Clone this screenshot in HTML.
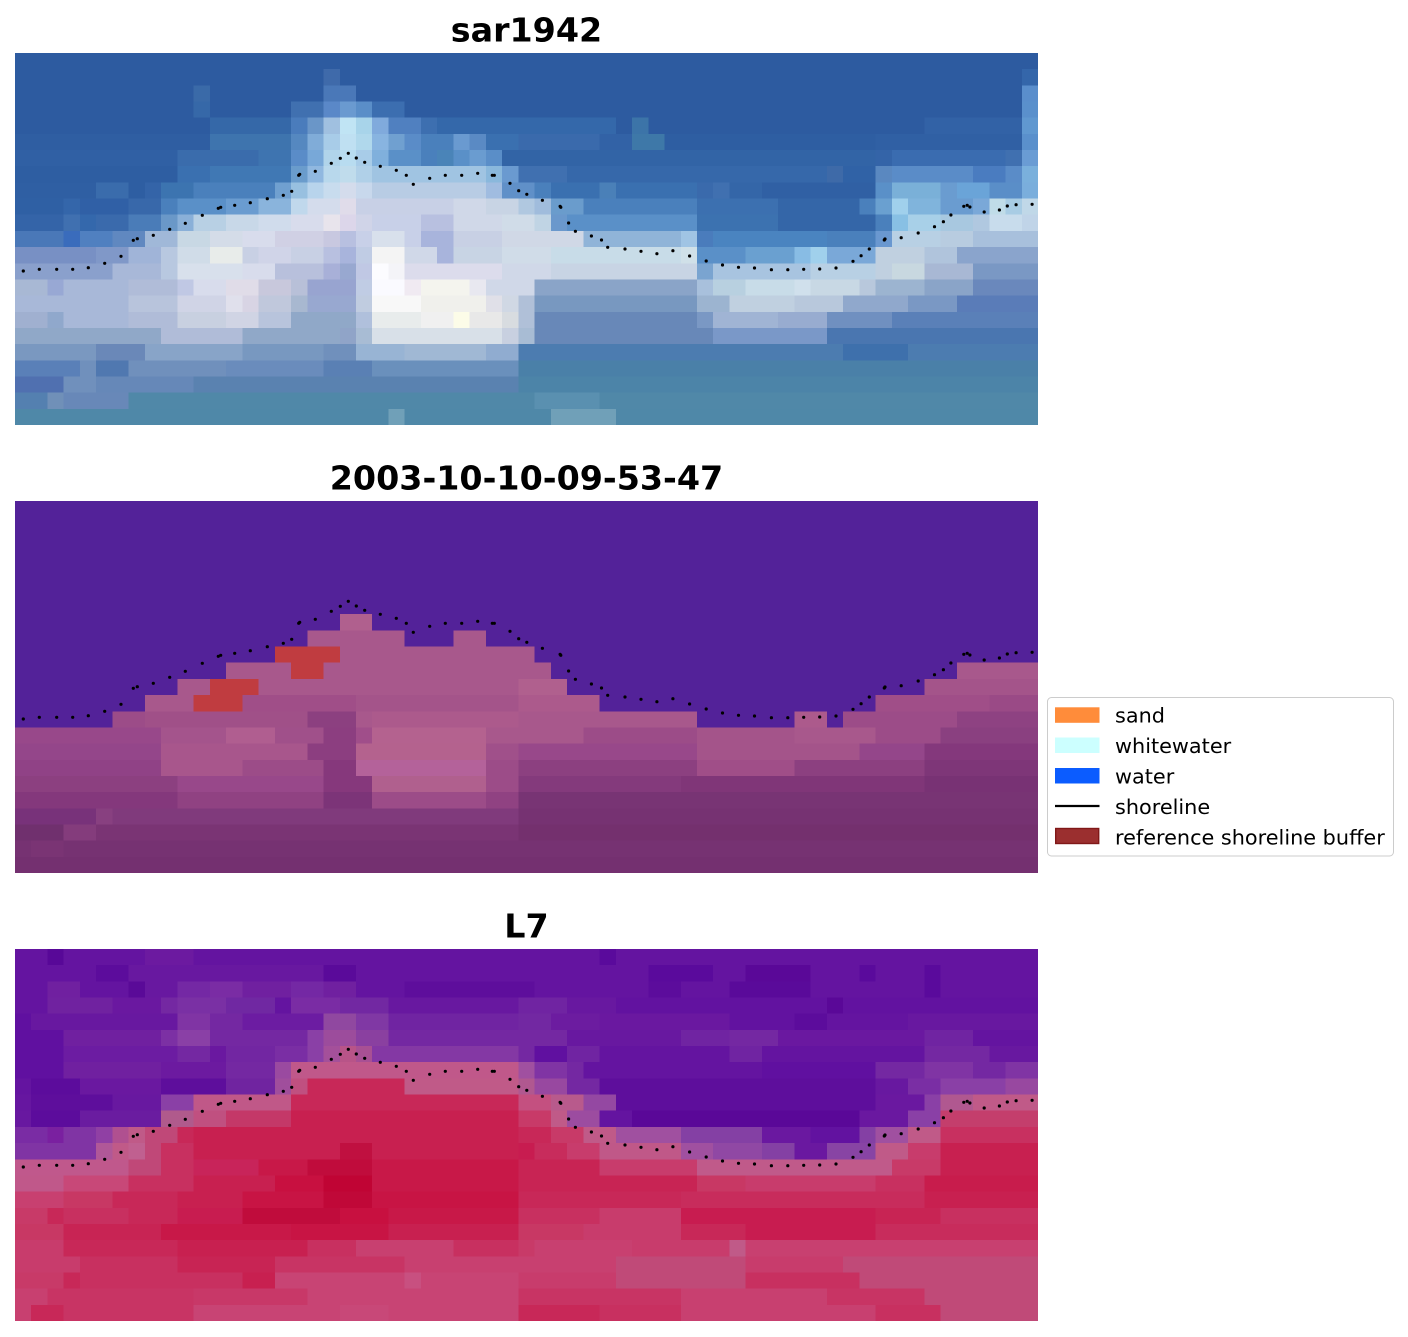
<!DOCTYPE html>
<html><head><meta charset="utf-8">
<style>
html,body{margin:0;padding:0;background:#fff;}
svg{display:block;}
.p rect{shape-rendering:crispEdges;}
text{font-family:"DejaVu Sans","Liberation Sans",sans-serif;fill:#000;}
</style></head><body>
<svg width="1408" height="1337" viewBox="0 0 1408 1337" xmlns="http://www.w3.org/2000/svg">
<rect width="1408" height="1337" fill="#fff"/>
<text x="526.5" y="41.5" font-size="33.3" font-weight="bold" text-anchor="middle">sar1942</text>
<text x="526.5" y="489.5" font-size="33.3" font-weight="bold" text-anchor="middle">2003-10-10-09-53-47</text>
<text x="526.5" y="937.5" font-size="33.3" font-weight="bold" text-anchor="middle">L7</text>

<!-- Panel 1 -->
<svg class="p" x="15" y="53" width="1023" height="372" viewBox="0 0 63 23" preserveAspectRatio="none">
<rect width="63" height="23" fill="#2d5ba0"/>
<rect x="19" y="1" width="1" height="1" fill="#3f6aaa"/><rect x="62" y="1" width="1" height="1" fill="#3466aa"/>
<rect x="11" y="2" width="1" height="1" fill="#3a6aa8"/><rect x="19" y="2" width="2" height="1" fill="#4a78b8"/><rect x="62" y="2" width="1" height="1" fill="#5a8ecc"/>
<rect x="11" y="3" width="1" height="1" fill="#3668a8"/><rect x="17" y="3" width="2" height="1" fill="#4070b0"/><rect x="19" y="3" width="1" height="1" fill="#5a88c8"/><rect x="20" y="3" width="1" height="1" fill="#6a9ad0"/><rect x="21" y="3" width="1" height="1" fill="#5a8ec8"/><rect x="22" y="3" width="2" height="1" fill="#3c6eb0"/><rect x="62" y="3" width="1" height="1" fill="#5a90cc"/>
<rect x="12" y="4" width="5" height="1" fill="#3568a8"/><rect x="17" y="4" width="1" height="1" fill="#4a7cbc"/><rect x="18" y="4" width="1" height="1" fill="#6a96c8"/><rect x="19" y="4" width="1" height="1" fill="#a0c0e0"/><rect x="20" y="4" width="1" height="1" fill="#c0e4f4"/><rect x="21" y="4" width="1" height="1" fill="#a8d4ea"/><rect x="22" y="4" width="1" height="1" fill="#80aadc"/><rect x="23" y="4" width="2" height="1" fill="#5080c0"/><rect x="25" y="4" width="1" height="1" fill="#3d6fb0"/><rect x="26" y="4" width="11" height="1" fill="#3468aa"/><rect x="38" y="4" width="1" height="1" fill="#3c74a8"/><rect x="56" y="4" width="6" height="1" fill="#3262a6"/><rect x="62" y="4" width="1" height="1" fill="#6098d0"/>
<rect x="0" y="5" width="12" height="1" fill="#2f5ea2"/><rect x="12" y="5" width="5" height="1" fill="#3e74ae"/><rect x="17" y="5" width="1" height="1" fill="#5588c0"/><rect x="18" y="5" width="1" height="1" fill="#80acd8"/><rect x="19" y="5" width="1" height="1" fill="#a8cce8"/><rect x="20" y="5" width="1" height="1" fill="#bfe0f2"/><rect x="21" y="5" width="1" height="1" fill="#b0d8ec"/><rect x="22" y="5" width="1" height="1" fill="#88b4e0"/><rect x="23" y="5" width="1" height="1" fill="#70a0d0"/><rect x="24" y="5" width="1" height="1" fill="#5a8cc8"/><rect x="25" y="5" width="2" height="1" fill="#4a80bc"/><rect x="27" y="5" width="1" height="1" fill="#6a9ad0"/><rect x="28" y="5" width="1" height="1" fill="#5a8ac4"/><rect x="29" y="5" width="2" height="1" fill="#3a70b0"/><rect x="31" y="5" width="5" height="1" fill="#3a6aac"/><rect x="36" y="5" width="2" height="1" fill="#3262a6"/><rect x="38" y="5" width="2" height="1" fill="#3e78a8"/><rect x="40" y="5" width="13" height="1" fill="#2e5ea2"/><rect x="53" y="5" width="9" height="1" fill="#3060a4"/><rect x="62" y="5" width="1" height="1" fill="#5a90cc"/>
<rect x="0" y="6" width="10" height="1" fill="#3060a4"/><rect x="10" y="6" width="5" height="1" fill="#3a6cac"/><rect x="15" y="6" width="2" height="1" fill="#3e74b0"/><rect x="17" y="6" width="1" height="1" fill="#5a8cc8"/><rect x="18" y="6" width="1" height="1" fill="#78a8d8"/><rect x="19" y="6" width="1" height="1" fill="#b0d4ea"/><rect x="20" y="6" width="1" height="1" fill="#b8dcf0"/><rect x="21" y="6" width="1" height="1" fill="#a8cce8"/><rect x="22" y="6" width="1" height="1" fill="#80b0dc"/><rect x="23" y="6" width="2" height="1" fill="#5a90c8"/><rect x="25" y="6" width="1" height="1" fill="#4a80bc"/><rect x="26" y="6" width="1" height="1" fill="#4a84b8"/><rect x="27" y="6" width="1" height="1" fill="#5a90c8"/><rect x="28" y="6" width="1" height="1" fill="#6a9cd0"/><rect x="29" y="6" width="1" height="1" fill="#5a8ec8"/><rect x="30" y="6" width="23" height="1" fill="#3264a6"/><rect x="53" y="6" width="1" height="1" fill="#3464a8"/><rect x="54" y="6" width="7" height="1" fill="#3a6cb0"/><rect x="61" y="6" width="1" height="1" fill="#4070b0"/><rect x="62" y="6" width="1" height="1" fill="#6a9cd4"/>
<rect x="0" y="7" width="10" height="1" fill="#2e5ea2"/><rect x="10" y="7" width="2" height="1" fill="#3a70b0"/><rect x="12" y="7" width="5" height="1" fill="#4078b4"/><rect x="17" y="7" width="1" height="1" fill="#6a9ccc"/><rect x="18" y="7" width="1" height="1" fill="#90b8e0"/><rect x="19" y="7" width="1" height="1" fill="#b8d8ec"/><rect x="20" y="7" width="1" height="1" fill="#c0dcec"/><rect x="21" y="7" width="1" height="1" fill="#b0d0e8"/><rect x="22" y="7" width="7" height="1" fill="#a0c4e2"/><rect x="29" y="7" width="1" height="1" fill="#8ab8dc"/><rect x="30" y="7" width="1" height="1" fill="#6a9ad0"/><rect x="31" y="7" width="3" height="1" fill="#4070b0"/><rect x="34" y="7" width="16" height="1" fill="#3668aa"/><rect x="50" y="7" width="1" height="1" fill="#3e6aa8"/><rect x="51" y="7" width="2" height="1" fill="#3062a6"/><rect x="53" y="7" width="1" height="1" fill="#5a88c0"/><rect x="54" y="7" width="5" height="1" fill="#5a8cc8"/><rect x="59" y="7" width="2" height="1" fill="#4a7cc0"/><rect x="61" y="7" width="1" height="1" fill="#5a8cc8"/><rect x="62" y="7" width="1" height="1" fill="#7ab0dc"/>
<rect x="0" y="8" width="5" height="1" fill="#2f5fa3"/><rect x="5" y="8" width="2" height="1" fill="#3a6cac"/><rect x="7" y="8" width="1" height="1" fill="#2e5ea2"/><rect x="8" y="8" width="1" height="1" fill="#3464a8"/><rect x="9" y="8" width="2" height="1" fill="#3c74b0"/><rect x="11" y="8" width="5" height="1" fill="#4a80bc"/><rect x="16" y="8" width="1" height="1" fill="#70a0d0"/><rect x="17" y="8" width="1" height="1" fill="#98c0e0"/><rect x="18" y="8" width="1" height="1" fill="#b8d4ec"/><rect x="19" y="8" width="1" height="1" fill="#c8dcee"/><rect x="20" y="8" width="1" height="1" fill="#d4dcec"/><rect x="21" y="8" width="1" height="1" fill="#c8d8ec"/><rect x="22" y="8" width="7" height="1" fill="#b8cce4"/><rect x="29" y="8" width="1" height="1" fill="#a0bce0"/><rect x="30" y="8" width="2" height="1" fill="#6090c8"/><rect x="32" y="8" width="1" height="1" fill="#4a80bc"/><rect x="33" y="8" width="9" height="1" fill="#3a70b0"/><rect x="36" y="8" width="1" height="1" fill="#4a80b8"/><rect x="42" y="8" width="1" height="1" fill="#3a6aac"/><rect x="43" y="8" width="1" height="1" fill="#4070b0"/><rect x="44" y="8" width="2" height="1" fill="#3466a8"/><rect x="46" y="8" width="7" height="1" fill="#3060a4"/><rect x="53" y="8" width="1" height="1" fill="#5a90c8"/><rect x="54" y="8" width="3" height="1" fill="#7ab0d8"/><rect x="57" y="8" width="1" height="1" fill="#6a9cd0"/><rect x="58" y="8" width="2" height="1" fill="#6aa4d8"/><rect x="60" y="8" width="2" height="1" fill="#5a8ec8"/><rect x="62" y="8" width="1" height="1" fill="#7aaedc"/>
<rect x="0" y="9" width="3" height="1" fill="#2f60a4"/><rect x="3" y="9" width="1" height="1" fill="#3466aa"/><rect x="4" y="9" width="3" height="1" fill="#3060a6"/><rect x="7" y="9" width="2" height="1" fill="#3868aa"/><rect x="9" y="9" width="1" height="1" fill="#4a80bc"/><rect x="10" y="9" width="3" height="1" fill="#5a90c8"/><rect x="13" y="9" width="2" height="1" fill="#6a9cd0"/><rect x="15" y="9" width="2" height="1" fill="#8ab4dc"/><rect x="17" y="9" width="1" height="1" fill="#c0d8ec"/><rect x="18" y="9" width="2" height="1" fill="#d4dcec"/><rect x="20" y="9" width="1" height="1" fill="#e0dcea"/><rect x="21" y="9" width="6" height="1" fill="#c8d0e6"/><rect x="27" y="9" width="2" height="1" fill="#d0d8e8"/><rect x="29" y="9" width="2" height="1" fill="#c8d4e4"/><rect x="31" y="9" width="1" height="1" fill="#b0c8e0"/><rect x="32" y="9" width="1" height="1" fill="#a0bcdc"/><rect x="33" y="9" width="2" height="1" fill="#6a9ccc"/><rect x="35" y="9" width="7" height="1" fill="#4a80bc"/><rect x="42" y="9" width="5" height="1" fill="#3c70b0"/><rect x="47" y="9" width="5" height="1" fill="#3466a8"/><rect x="52" y="9" width="1" height="1" fill="#4a80bc"/><rect x="53" y="9" width="1" height="1" fill="#6aa0d0"/><rect x="54" y="9" width="1" height="1" fill="#a0d0ec"/><rect x="55" y="9" width="2" height="1" fill="#80b4dc"/><rect x="57" y="9" width="2" height="1" fill="#6a9cd0"/><rect x="59" y="9" width="1" height="1" fill="#7aa8d8"/><rect x="60" y="9" width="1" height="1" fill="#c0dce8"/><rect x="61" y="9" width="1" height="1" fill="#a8cce4"/><rect x="62" y="9" width="1" height="1" fill="#c0d8e8"/>
<rect x="0" y="10" width="3" height="1" fill="#3464a8"/><rect x="3" y="10" width="1" height="1" fill="#4070b0"/><rect x="4" y="10" width="1" height="1" fill="#3468ac"/><rect x="5" y="10" width="2" height="1" fill="#3a6aac"/><rect x="7" y="10" width="2" height="1" fill="#4a7cb8"/><rect x="9" y="10" width="1" height="1" fill="#6a98c8"/><rect x="10" y="10" width="1" height="1" fill="#8ab0d8"/><rect x="11" y="10" width="2" height="1" fill="#b8d0e4"/><rect x="13" y="10" width="2" height="1" fill="#c8d8e8"/><rect x="15" y="10" width="2" height="1" fill="#d0dcec"/><rect x="17" y="10" width="2" height="1" fill="#d8dcec"/><rect x="19" y="10" width="1" height="1" fill="#e8e4ec"/><rect x="20" y="10" width="1" height="1" fill="#dcd6ea"/><rect x="21" y="10" width="1" height="1" fill="#d0d4e8"/><rect x="22" y="10" width="3" height="1" fill="#c8d0e8"/><rect x="25" y="10" width="2" height="1" fill="#b8c0e0"/><rect x="27" y="10" width="3" height="1" fill="#d0d8e8"/><rect x="30" y="10" width="2" height="1" fill="#d0dce8"/><rect x="32" y="10" width="1" height="1" fill="#c0d4e4"/><rect x="33" y="10" width="1" height="1" fill="#6a98cc"/><rect x="34" y="10" width="8" height="1" fill="#5a90c8"/><rect x="42" y="10" width="5" height="1" fill="#3c72b0"/><rect x="47" y="10" width="6" height="1" fill="#3466a8"/><rect x="53" y="10" width="1" height="1" fill="#4a80bc"/><rect x="54" y="10" width="1" height="1" fill="#88c0e4"/><rect x="55" y="10" width="2" height="1" fill="#a8d0e8"/><rect x="57" y="10" width="2" height="1" fill="#a8c8e0"/><rect x="59" y="10" width="1" height="1" fill="#b0c8e0"/><rect x="60" y="10" width="2" height="1" fill="#c8dcec"/><rect x="62" y="10" width="1" height="1" fill="#c0d4e8"/>
<rect x="0" y="11" width="3" height="1" fill="#4a78b8"/><rect x="3" y="11" width="1" height="1" fill="#3a6cbc"/><rect x="4" y="11" width="2" height="1" fill="#5080c0"/><rect x="6" y="11" width="2" height="1" fill="#6088c0"/><rect x="8" y="11" width="2" height="1" fill="#a0b8d8"/><rect x="10" y="11" width="2" height="1" fill="#c8d8e4"/><rect x="12" y="11" width="2" height="1" fill="#d4dce8"/><rect x="14" y="11" width="2" height="1" fill="#d8dcec"/><rect x="16" y="11" width="3" height="1" fill="#d0d0e4"/><rect x="19" y="11" width="1" height="1" fill="#c8c8e0"/><rect x="20" y="11" width="1" height="1" fill="#b8c0e0"/><rect x="21" y="11" width="1" height="1" fill="#c8d0e8"/><rect x="22" y="11" width="2" height="1" fill="#d8e0ec"/><rect x="24" y="11" width="1" height="1" fill="#c8d0e8"/><rect x="25" y="11" width="2" height="1" fill="#a8b4dc"/><rect x="27" y="11" width="3" height="1" fill="#c8d0e4"/><rect x="30" y="11" width="5" height="1" fill="#d0d8e6"/><rect x="35" y="11" width="6" height="1" fill="#90b4d8"/><rect x="41" y="11" width="1" height="1" fill="#a0c4e4"/><rect x="42" y="11" width="1" height="1" fill="#4a7cbc"/><rect x="43" y="11" width="7" height="1" fill="#4a84c0"/><rect x="50" y="11" width="3" height="1" fill="#4a80bc"/><rect x="53" y="11" width="1" height="1" fill="#6a98d0"/><rect x="54" y="11" width="3" height="1" fill="#b8d0e4"/><rect x="57" y="11" width="2" height="1" fill="#b8cce0"/><rect x="59" y="11" width="4" height="1" fill="#a8c0dc"/>
<rect x="0" y="12" width="5" height="1" fill="#7890c4"/><rect x="5" y="12" width="2" height="1" fill="#8098c8"/><rect x="7" y="12" width="2" height="1" fill="#a0b4d8"/><rect x="9" y="12" width="1" height="1" fill="#b8c8e0"/><rect x="10" y="12" width="2" height="1" fill="#d0dce8"/><rect x="12" y="12" width="2" height="1" fill="#e8ecea"/><rect x="14" y="12" width="1" height="1" fill="#c8d0e4"/><rect x="15" y="12" width="2" height="1" fill="#d0d4e8"/><rect x="17" y="12" width="2" height="1" fill="#c8d0e4"/><rect x="19" y="12" width="1" height="1" fill="#b8c0e0"/><rect x="20" y="12" width="1" height="1" fill="#a8b4dc"/><rect x="21" y="12" width="1" height="1" fill="#c0cce4"/><rect x="22" y="12" width="2" height="1" fill="#f4f4f4"/><rect x="24" y="12" width="2" height="1" fill="#d0d8e8"/><rect x="26" y="12" width="1" height="1" fill="#a8b4dc"/><rect x="27" y="12" width="3" height="1" fill="#c8d4e4"/><rect x="30" y="12" width="3" height="1" fill="#d0dce8"/><rect x="33" y="12" width="8" height="1" fill="#c8dce8"/><rect x="41" y="12" width="1" height="1" fill="#d0e0e8"/><rect x="42" y="12" width="3" height="1" fill="#5a90c8"/><rect x="45" y="12" width="3" height="1" fill="#6aa0d0"/><rect x="48" y="12" width="1" height="1" fill="#88bce4"/><rect x="49" y="12" width="1" height="1" fill="#a0d0ec"/><rect x="50" y="12" width="3" height="1" fill="#7aa8d8"/><rect x="53" y="12" width="3" height="1" fill="#c0d0e0"/><rect x="56" y="12" width="2" height="1" fill="#b0c4dc"/><rect x="58" y="12" width="5" height="1" fill="#8aa4cc"/>
<rect x="0" y="13" width="6" height="1" fill="#8aa0cc"/><rect x="6" y="13" width="3" height="1" fill="#a8b8d8"/><rect x="9" y="13" width="1" height="1" fill="#b8c8e0"/><rect x="10" y="13" width="4" height="1" fill="#d8e0ec"/><rect x="14" y="13" width="2" height="1" fill="#d8dcec"/><rect x="16" y="13" width="3" height="1" fill="#b8c0dc"/><rect x="19" y="13" width="1" height="1" fill="#a8b0d8"/><rect x="20" y="13" width="1" height="1" fill="#98a8d0"/><rect x="21" y="13" width="1" height="1" fill="#c0c8e4"/><rect x="22" y="13" width="1" height="1" fill="#fcfcff"/><rect x="23" y="13" width="1" height="1" fill="#f4f4f8"/><rect x="24" y="13" width="6" height="1" fill="#dcdcec"/><rect x="30" y="13" width="3" height="1" fill="#d0d8e8"/><rect x="33" y="13" width="9" height="1" fill="#c8d4e4"/><rect x="42" y="13" width="1" height="1" fill="#7aa4d0"/><rect x="43" y="13" width="6" height="1" fill="#a8c4e0"/><rect x="49" y="13" width="4" height="1" fill="#b8d0e4"/><rect x="53" y="13" width="1" height="1" fill="#c0d0e0"/><rect x="54" y="13" width="2" height="1" fill="#c8d8e0"/><rect x="56" y="13" width="3" height="1" fill="#a8b8d4"/><rect x="59" y="13" width="4" height="1" fill="#7a98c4"/>
<rect x="0" y="14" width="2" height="1" fill="#a8b8d4"/><rect x="2" y="14" width="1" height="1" fill="#98a8d4"/><rect x="3" y="14" width="4" height="1" fill="#a8b8d8"/><rect x="7" y="14" width="3" height="1" fill="#b0bcd8"/><rect x="10" y="14" width="1" height="1" fill="#c0c8e4"/><rect x="11" y="14" width="2" height="1" fill="#d8dcec"/><rect x="13" y="14" width="2" height="1" fill="#e0dce8"/><rect x="15" y="14" width="2" height="1" fill="#c8c8dc"/><rect x="17" y="14" width="1" height="1" fill="#b8c0d8"/><rect x="18" y="14" width="3" height="1" fill="#98a4d0"/><rect x="21" y="14" width="1" height="1" fill="#c0cce4"/><rect x="22" y="14" width="2" height="1" fill="#fafaff"/><rect x="24" y="14" width="1" height="1" fill="#f0eaf2"/><rect x="25" y="14" width="3" height="1" fill="#f4f4ee"/><rect x="28" y="14" width="1" height="1" fill="#e8e8f0"/><rect x="29" y="14" width="3" height="1" fill="#d0d8e8"/><rect x="32" y="14" width="10" height="1" fill="#8aa4c8"/><rect x="42" y="14" width="1" height="1" fill="#a8c0dc"/><rect x="43" y="14" width="2" height="1" fill="#b8d0e0"/><rect x="45" y="14" width="3" height="1" fill="#c8dce8"/><rect x="48" y="14" width="1" height="1" fill="#d0e0ec"/><rect x="49" y="14" width="3" height="1" fill="#c8d8e4"/><rect x="52" y="14" width="1" height="1" fill="#b8c8dc"/><rect x="53" y="14" width="3" height="1" fill="#9cb4d0"/><rect x="56" y="14" width="3" height="1" fill="#8aa4c8"/><rect x="59" y="14" width="4" height="1" fill="#6a88bc"/>
<rect x="0" y="15" width="7" height="1" fill="#a8b8d8"/><rect x="7" y="15" width="3" height="1" fill="#b8c4dc"/><rect x="10" y="15" width="3" height="1" fill="#d0d4e6"/><rect x="13" y="15" width="1" height="1" fill="#e0e0ec"/><rect x="14" y="15" width="1" height="1" fill="#d8d4e4"/><rect x="15" y="15" width="2" height="1" fill="#c0c8dc"/><rect x="17" y="15" width="1" height="1" fill="#a8b8d0"/><rect x="18" y="15" width="3" height="1" fill="#98a8d0"/><rect x="21" y="15" width="1" height="1" fill="#c0cce0"/><rect x="22" y="15" width="3" height="1" fill="#f8f8f8"/><rect x="25" y="15" width="4" height="1" fill="#f0f0ec"/><rect x="29" y="15" width="1" height="1" fill="#e0e0e8"/><rect x="30" y="15" width="1" height="1" fill="#d0d8e4"/><rect x="31" y="15" width="1" height="1" fill="#b0c0d8"/><rect x="32" y="15" width="10" height="1" fill="#7898c0"/><rect x="42" y="15" width="2" height="1" fill="#9cb4d0"/><rect x="44" y="15" width="4" height="1" fill="#c0d0e0"/><rect x="48" y="15" width="3" height="1" fill="#b8c8dc"/><rect x="51" y="15" width="4" height="1" fill="#90a8cc"/><rect x="55" y="15" width="3" height="1" fill="#7a98c4"/><rect x="58" y="15" width="5" height="1" fill="#5a7cb8"/>
<rect x="0" y="16" width="2" height="1" fill="#a0b0d0"/><rect x="2" y="16" width="1" height="1" fill="#90a8cc"/><rect x="3" y="16" width="4" height="1" fill="#a8b8d8"/><rect x="7" y="16" width="3" height="1" fill="#b0bcd8"/><rect x="10" y="16" width="3" height="1" fill="#c8d0e0"/><rect x="13" y="16" width="2" height="1" fill="#d0d4e4"/><rect x="15" y="16" width="2" height="1" fill="#b8c4dc"/><rect x="17" y="16" width="4" height="1" fill="#90a8c8"/><rect x="21" y="16" width="1" height="1" fill="#b0c0dc"/><rect x="22" y="16" width="3" height="1" fill="#e8ecec"/><rect x="25" y="16" width="2" height="1" fill="#f0f0f0"/><rect x="27" y="16" width="1" height="1" fill="#fcfce8"/><rect x="28" y="16" width="2" height="1" fill="#e8e8e8"/><rect x="30" y="16" width="1" height="1" fill="#d8dce0"/><rect x="31" y="16" width="1" height="1" fill="#b0c0d8"/><rect x="32" y="16" width="10" height="1" fill="#6888b8"/><rect x="42" y="16" width="1" height="1" fill="#7a98c4"/><rect x="43" y="16" width="4" height="1" fill="#a0b4d4"/><rect x="47" y="16" width="3" height="1" fill="#98acd0"/><rect x="50" y="16" width="4" height="1" fill="#7090c0"/><rect x="54" y="16" width="9" height="1" fill="#5a80b8"/>
<rect x="0" y="17" width="9" height="1" fill="#90a8c8"/><rect x="9" y="17" width="5" height="1" fill="#b0bcd8"/><rect x="14" y="17" width="6" height="1" fill="#90a8c8"/><rect x="20" y="17" width="1" height="1" fill="#90a4c8"/><rect x="21" y="17" width="1" height="1" fill="#a8bcd4"/><rect x="22" y="17" width="8" height="1" fill="#d8e0e8"/><rect x="30" y="17" width="1" height="1" fill="#c8d0e0"/><rect x="31" y="17" width="1" height="1" fill="#a8bcd4"/><rect x="32" y="17" width="11" height="1" fill="#6888b8"/><rect x="43" y="17" width="7" height="1" fill="#7a98c8"/><rect x="50" y="17" width="13" height="1" fill="#4a76b0"/>
<rect x="0" y="18" width="5" height="1" fill="#7a98c0"/><rect x="5" y="18" width="3" height="1" fill="#6a88b8"/><rect x="8" y="18" width="6" height="1" fill="#88a4c8"/><rect x="14" y="18" width="5" height="1" fill="#7898c0"/><rect x="19" y="18" width="2" height="1" fill="#7090bc"/><rect x="21" y="18" width="3" height="1" fill="#98b4d4"/><rect x="24" y="18" width="5" height="1" fill="#a0b8d4"/><rect x="29" y="18" width="2" height="1" fill="#90acd0"/><rect x="31" y="18" width="32" height="1" fill="#4c7cb0"/><rect x="51" y="18" width="4" height="1" fill="#3e70ac"/>
<rect x="0" y="19" width="4" height="1" fill="#5a80b8"/><rect x="4" y="19" width="1" height="1" fill="#7090bc"/><rect x="5" y="19" width="2" height="1" fill="#5078b0"/><rect x="7" y="19" width="6" height="1" fill="#7090bc"/><rect x="13" y="19" width="6" height="1" fill="#6a8cbc"/><rect x="19" y="19" width="3" height="1" fill="#5a80b4"/><rect x="22" y="19" width="9" height="1" fill="#6a90bc"/><rect x="31" y="19" width="32" height="1" fill="#4a80a8"/>
<rect x="0" y="20" width="3" height="1" fill="#5070b0"/><rect x="3" y="20" width="2" height="1" fill="#7090bc"/><rect x="5" y="20" width="6" height="1" fill="#6688b8"/><rect x="11" y="20" width="20" height="1" fill="#5a82b0"/><rect x="31" y="20" width="32" height="1" fill="#4c84a8"/>
<rect x="0" y="21" width="63" height="1" fill="#5088a8"/><rect x="0" y="21" width="2" height="1" fill="#5480b0"/><rect x="2" y="21" width="1" height="1" fill="#7090b8"/><rect x="3" y="21" width="4" height="1" fill="#6888b8"/><rect x="32" y="21" width="4" height="1" fill="#5a90b0"/>
<rect x="0" y="22" width="63" height="1" fill="#4f88a8"/><rect x="23" y="22" width="1" height="1" fill="#70a0b8"/><rect x="33" y="22" width="4" height="1" fill="#70a0b8"/>
</svg>

<!-- Panel 2 -->
<svg class="p" x="15" y="501" width="1023" height="372" viewBox="0 0 63 23" preserveAspectRatio="none">
<rect width="63" height="23" fill="#a8588c"/>
<rect x="20" y="7" width="2" height="1" fill="#b0608e"/>
<rect x="31" y="11" width="3" height="1" fill="#b0608e"/><rect x="56" y="11" width="7" height="1" fill="#a4548a"/>
<rect x="14" y="12" width="7" height="1" fill="#a04e88"/><rect x="21" y="12" width="10" height="1" fill="#a4548a"/><rect x="31" y="12" width="5" height="1" fill="#ac5a8c"/><rect x="53" y="12" width="7" height="1" fill="#a04e88"/><rect x="60" y="12" width="3" height="1" fill="#9a4a86"/>
<rect x="6" y="13" width="2" height="1" fill="#9c4c88"/><rect x="8" y="13" width="10" height="1" fill="#a05088"/><rect x="18" y="13" width="3" height="1" fill="#8c4080"/><rect x="22" y="13" width="9" height="1" fill="#ac5a8c"/><rect x="48" y="13" width="2" height="1" fill="#ac5a8c"/><rect x="51" y="13" width="7" height="1" fill="#9c4c88"/><rect x="58" y="13" width="5" height="1" fill="#8e4282"/>
<rect x="0" y="14" width="9" height="1" fill="#98488a"/><rect x="9" y="14" width="4" height="1" fill="#a4548c"/><rect x="13" y="14" width="3" height="1" fill="#b05e90"/><rect x="16" y="14" width="3" height="1" fill="#a0508a"/><rect x="19" y="14" width="2" height="1" fill="#8c3e80"/><rect x="21" y="14" width="1" height="1" fill="#a04e8a"/><rect x="22" y="14" width="7" height="1" fill="#b4628f"/><rect x="35" y="14" width="7" height="1" fill="#9c4c88"/><rect x="42" y="14" width="6" height="1" fill="#a4548a"/><rect x="53" y="14" width="4" height="1" fill="#9c4c88"/><rect x="57" y="14" width="6" height="1" fill="#8a4080"/>
<rect x="0" y="15" width="9" height="1" fill="#94468a"/><rect x="9" y="15" width="9" height="1" fill="#a8568c"/><rect x="18" y="15" width="3" height="1" fill="#8c3e80"/><rect x="21" y="15" width="8" height="1" fill="#b4628e"/><rect x="29" y="15" width="2" height="1" fill="#a0508a"/><rect x="31" y="15" width="11" height="1" fill="#98488a"/><rect x="42" y="15" width="10" height="1" fill="#a4548a"/><rect x="52" y="15" width="4" height="1" fill="#94468a"/><rect x="56" y="15" width="7" height="1" fill="#84387c"/>
<rect x="0" y="16" width="9" height="1" fill="#904286"/><rect x="9" y="16" width="5" height="1" fill="#a8568c"/><rect x="14" y="16" width="5" height="1" fill="#9c4c88"/><rect x="19" y="16" width="2" height="1" fill="#86387c"/><rect x="21" y="16" width="8" height="1" fill="#b4629a"/><rect x="29" y="16" width="2" height="1" fill="#9c4c88"/><rect x="31" y="16" width="11" height="1" fill="#8c4080"/><rect x="42" y="16" width="6" height="1" fill="#a04e88"/><rect x="48" y="16" width="8" height="1" fill="#8c4080"/><rect x="56" y="16" width="7" height="1" fill="#7e3678"/>
<rect x="0" y="17" width="10" height="1" fill="#8c4080"/><rect x="10" y="17" width="9" height="1" fill="#98488a"/><rect x="19" y="17" width="3" height="1" fill="#86387c"/><rect x="22" y="17" width="7" height="1" fill="#b0608e"/><rect x="29" y="17" width="2" height="1" fill="#9c4c88"/><rect x="31" y="17" width="10" height="1" fill="#843a7c"/><rect x="41" y="17" width="15" height="1" fill="#803678"/><rect x="56" y="17" width="7" height="1" fill="#783274"/>
<rect x="0" y="18" width="10" height="1" fill="#84387c"/><rect x="10" y="18" width="9" height="1" fill="#904282"/><rect x="19" y="18" width="3" height="1" fill="#7c3478"/><rect x="22" y="18" width="7" height="1" fill="#9c4c88"/><rect x="29" y="18" width="2" height="1" fill="#904282"/><rect x="31" y="18" width="32" height="1" fill="#783474"/>
<rect x="0" y="19" width="5" height="1" fill="#78327a"/><rect x="5" y="19" width="1" height="1" fill="#884080"/><rect x="6" y="19" width="25" height="1" fill="#803a7c"/><rect x="31" y="19" width="32" height="1" fill="#763272"/>
<rect x="0" y="20" width="3" height="1" fill="#70306e"/><rect x="3" y="20" width="2" height="1" fill="#843c7c"/><rect x="5" y="20" width="26" height="1" fill="#7a3474"/><rect x="31" y="20" width="32" height="1" fill="#74306e"/>
<rect x="0" y="21" width="63" height="1" fill="#763272"/><rect x="1" y="21" width="2" height="1" fill="#7a3474"/>
<rect x="0" y="22" width="63" height="1" fill="#743070"/>
<g fill="#532299">
<rect x="0" y="0" width="6" height="14"/><rect x="6" y="0" width="2" height="13"/><rect x="8" y="0" width="2" height="12"/><rect x="10" y="0" width="3" height="11"/><rect x="13" y="0" width="3" height="10"/><rect x="16" y="0" width="2" height="9"/><rect x="18" y="0" width="2" height="8"/><rect x="20" y="0" width="2" height="7"/><rect x="22" y="0" width="2" height="8"/><rect x="24" y="0" width="3" height="9"/><rect x="27" y="0" width="2" height="8"/><rect x="29" y="0" width="3" height="9"/><rect x="32" y="0" width="1" height="10"/><rect x="33" y="0" width="1" height="11"/><rect x="34" y="0" width="2" height="12"/><rect x="36" y="0" width="6" height="13"/><rect x="42" y="0" width="6" height="14"/><rect x="48" y="0" width="2" height="13"/><rect x="50" y="0" width="1" height="14"/><rect x="51" y="0" width="2" height="13"/><rect x="53" y="0" width="3" height="12"/><rect x="56" y="0" width="2" height="11"/><rect x="58" y="0" width="5" height="10"/>
</g>
<g fill="#c03c40">
<rect x="12" y="11" width="3" height="1"/><rect x="11" y="12" width="3" height="1"/><rect x="16" y="9" width="4" height="1"/><rect x="17" y="10" width="2" height="1"/>
</g>
</svg>

<!-- Panel 3 -->
<svg class="p" x="15" y="949" width="1023" height="372" viewBox="0 0 63 23" preserveAspectRatio="none">
<rect width="63" height="23" fill="#6414a0"/>
<rect x="2" y="0" width="1" height="1" fill="#580898"/><rect x="8" y="0" width="3" height="1" fill="#6c1aa0"/><rect x="36" y="0" width="1" height="1" fill="#5a0a9c"/>
<rect x="5" y="1" width="2" height="1" fill="#5c0c9c"/><rect x="7" y="1" width="12" height="1" fill="#6818a0"/><rect x="19" y="1" width="2" height="1" fill="#5a0a9a"/><rect x="39" y="1" width="4" height="1" fill="#5a0a9c"/><rect x="45" y="1" width="4" height="1" fill="#5a0898"/><rect x="52" y="1" width="1" height="1" fill="#5a0a9c"/><rect x="56" y="1" width="1" height="1" fill="#5a0a9c"/>
<rect x="2" y="2" width="2" height="1" fill="#7020a0"/><rect x="7" y="2" width="1" height="1" fill="#5a0a98"/><rect x="8" y="2" width="2" height="1" fill="#6818a0"/><rect x="10" y="2" width="2" height="1" fill="#7428a4"/><rect x="12" y="2" width="2" height="1" fill="#7a2ca4"/><rect x="14" y="2" width="3" height="1" fill="#7020a0"/><rect x="17" y="2" width="2" height="1" fill="#7428a4"/><rect x="19" y="2" width="2" height="1" fill="#7020a0"/><rect x="24" y="2" width="8" height="1" fill="#5e0e9c"/><rect x="39" y="2" width="2" height="1" fill="#5c0c9c"/><rect x="44" y="2" width="5" height="1" fill="#5a0a9a"/><rect x="56" y="2" width="1" height="1" fill="#5a0a9c"/>
<rect x="2" y="3" width="4" height="1" fill="#7022a0"/><rect x="6" y="3" width="3" height="1" fill="#6a18a0"/><rect x="9" y="3" width="1" height="1" fill="#7428a2"/><rect x="10" y="3" width="3" height="1" fill="#7a30a4"/><rect x="13" y="3" width="3" height="1" fill="#7028a2"/><rect x="17" y="3" width="3" height="1" fill="#7a2ca4"/><rect x="20" y="3" width="3" height="1" fill="#7228a2"/><rect x="23" y="3" width="8" height="1" fill="#6818a0"/><rect x="31" y="3" width="3" height="1" fill="#7024a2"/><rect x="34" y="3" width="3" height="1" fill="#6818a0"/><rect x="37" y="3" width="26" height="1" fill="#6212a0"/><rect x="50" y="3" width="1" height="1" fill="#5a0898"/>
<rect x="0" y="4" width="1" height="1" fill="#6010a0"/><rect x="1" y="4" width="9" height="1" fill="#6818a0"/><rect x="10" y="4" width="2" height="1" fill="#8034a4"/><rect x="12" y="4" width="2" height="1" fill="#7428a2"/><rect x="14" y="4" width="5" height="1" fill="#6c1ca2"/><rect x="19" y="4" width="2" height="1" fill="#9048a0"/><rect x="21" y="4" width="2" height="1" fill="#8038a4"/><rect x="23" y="4" width="8" height="1" fill="#7024a2"/><rect x="31" y="4" width="2" height="1" fill="#7228a2"/><rect x="33" y="4" width="3" height="1" fill="#6c1ca0"/><rect x="36" y="4" width="8" height="1" fill="#6a18a0"/><rect x="44" y="4" width="4" height="1" fill="#6212a0"/><rect x="48" y="4" width="2" height="1" fill="#5c0c9c"/><rect x="55" y="4" width="8" height="1" fill="#6818a0"/>
<rect x="0" y="5" width="3" height="1" fill="#6010a0"/><rect x="3" y="5" width="6" height="1" fill="#7020a0"/><rect x="9" y="5" width="1" height="1" fill="#7c30a4"/><rect x="10" y="5" width="2" height="1" fill="#8a40a6"/><rect x="12" y="5" width="6" height="1" fill="#7428a2"/><rect x="18" y="5" width="1" height="1" fill="#8a40a6"/><rect x="19" y="5" width="2" height="1" fill="#9c4c9c"/><rect x="21" y="5" width="2" height="1" fill="#8a40a0"/><rect x="23" y="5" width="11" height="1" fill="#7428a2"/><rect x="34" y="5" width="7" height="1" fill="#6818a0"/><rect x="41" y="5" width="3" height="1" fill="#7024a2"/><rect x="44" y="5" width="3" height="1" fill="#7428a2"/><rect x="47" y="5" width="9" height="1" fill="#6a18a0"/><rect x="56" y="5" width="3" height="1" fill="#7024a2"/>
<rect x="0" y="6" width="3" height="1" fill="#6010a0"/><rect x="3" y="6" width="7" height="1" fill="#6c1ca2"/><rect x="10" y="6" width="2" height="1" fill="#7428a2"/><rect x="12" y="6" width="1" height="1" fill="#6a18a0"/><rect x="13" y="6" width="3" height="1" fill="#7226a2"/><rect x="16" y="6" width="2" height="1" fill="#7a2ea4"/><rect x="18" y="6" width="1" height="1" fill="#8a40a6"/><rect x="19" y="6" width="1" height="1" fill="#a4509a"/><rect x="20" y="6" width="1" height="1" fill="#b85488"/><rect x="21" y="6" width="1" height="1" fill="#a85094"/><rect x="22" y="6" width="9" height="1" fill="#8438a4"/><rect x="31" y="6" width="1" height="1" fill="#7428a2"/><rect x="32" y="6" width="2" height="1" fill="#6010a0"/><rect x="34" y="6" width="2" height="1" fill="#7024a2"/><rect x="44" y="6" width="2" height="1" fill="#7024a2"/><rect x="56" y="6" width="4" height="1" fill="#7428a2"/><rect x="60" y="6" width="3" height="1" fill="#6818a0"/>
<rect x="0" y="7" width="3" height="1" fill="#6010a0"/><rect x="3" y="7" width="6" height="1" fill="#7020a0"/><rect x="9" y="7" width="4" height="1" fill="#6c1aa0"/><rect x="13" y="7" width="3" height="1" fill="#7428a2"/><rect x="16" y="7" width="1" height="1" fill="#9a4aa0"/><rect x="17" y="7" width="15" height="1" fill="#c0588a"/><rect x="31" y="7" width="1" height="1" fill="#a050a0"/><rect x="32" y="7" width="2" height="1" fill="#8034a4"/><rect x="34" y="7" width="1" height="1" fill="#7428a2"/><rect x="46" y="7" width="7" height="1" fill="#6010a0"/><rect x="53" y="7" width="3" height="1" fill="#7428a2"/><rect x="56" y="7" width="3" height="1" fill="#8034a4"/><rect x="59" y="7" width="2" height="1" fill="#7428a2"/><rect x="61" y="7" width="2" height="1" fill="#8034a4"/>
<rect x="1" y="8" width="3" height="1" fill="#5c0c9c"/><rect x="4" y="8" width="5" height="1" fill="#6a18a0"/><rect x="9" y="8" width="4" height="1" fill="#5e0e9c"/><rect x="13" y="8" width="3" height="1" fill="#7024a0"/><rect x="16" y="8" width="1" height="1" fill="#a04e9c"/><rect x="17" y="8" width="1" height="1" fill="#c05080"/><rect x="18" y="8" width="6" height="1" fill="#c82858"/><rect x="24" y="8" width="7" height="1" fill="#c05a88"/><rect x="31" y="8" width="1" height="1" fill="#b05890"/><rect x="32" y="8" width="2" height="1" fill="#9848a0"/><rect x="34" y="8" width="2" height="1" fill="#7428a2"/><rect x="36" y="8" width="17" height="1" fill="#5e0e9c"/><rect x="53" y="8" width="2" height="1" fill="#6818a0"/><rect x="55" y="8" width="2" height="1" fill="#7a2ea4"/><rect x="57" y="8" width="4" height="1" fill="#8a40a6"/><rect x="61" y="8" width="2" height="1" fill="#9848a0"/>
<rect x="0" y="9" width="1" height="1" fill="#6616a0"/><rect x="1" y="9" width="5" height="1" fill="#5e0e9c"/><rect x="6" y="9" width="3" height="1" fill="#6818a0"/><rect x="9" y="9" width="2" height="1" fill="#8a40a6"/><rect x="11" y="9" width="6" height="1" fill="#c05888"/><rect x="17" y="9" width="14" height="1" fill="#c82858"/><rect x="31" y="9" width="2" height="1" fill="#c45080"/><rect x="33" y="9" width="2" height="1" fill="#b85a8c"/><rect x="35" y="9" width="2" height="1" fill="#9448a2"/><rect x="37" y="9" width="16" height="1" fill="#5e0e9c"/><rect x="53" y="9" width="3" height="1" fill="#6a18a0"/><rect x="56" y="9" width="1" height="1" fill="#8a40a6"/><rect x="57" y="9" width="2" height="1" fill="#b05890"/><rect x="59" y="9" width="4" height="1" fill="#c05a88"/>
<rect x="0" y="10" width="1" height="1" fill="#6818a0"/><rect x="1" y="10" width="3" height="1" fill="#5c0c9c"/><rect x="4" y="10" width="5" height="1" fill="#6a1ca0"/><rect x="9" y="10" width="2" height="1" fill="#b05a8c"/><rect x="11" y="10" width="2" height="1" fill="#c05080"/><rect x="13" y="10" width="4" height="1" fill="#c43868"/><rect x="17" y="10" width="14" height="1" fill="#c82050"/><rect x="31" y="10" width="2" height="1" fill="#c83a68"/><rect x="33" y="10" width="1" height="1" fill="#c05a88"/><rect x="34" y="10" width="2" height="1" fill="#9c4ca0"/><rect x="38" y="10" width="14" height="1" fill="#5a0898"/><rect x="52" y="10" width="3" height="1" fill="#6a18a0"/><rect x="55" y="10" width="2" height="1" fill="#8a40a6"/><rect x="57" y="10" width="6" height="1" fill="#c43e6c"/>
<rect x="0" y="11" width="2" height="1" fill="#7a2ca4"/><rect x="2" y="11" width="1" height="1" fill="#7a20a0"/><rect x="3" y="11" width="2" height="1" fill="#8034a4"/><rect x="5" y="11" width="1" height="1" fill="#9040a4"/><rect x="6" y="11" width="1" height="1" fill="#b05090"/><rect x="7" y="11" width="1" height="1" fill="#c05a88"/><rect x="8" y="11" width="2" height="1" fill="#c04878"/><rect x="10" y="11" width="1" height="1" fill="#c82858"/><rect x="11" y="11" width="20" height="1" fill="#c82050"/><rect x="31" y="11" width="2" height="1" fill="#c82858"/><rect x="33" y="11" width="2" height="1" fill="#c83a68"/><rect x="35" y="11" width="2" height="1" fill="#c05a88"/><rect x="37" y="11" width="4" height="1" fill="#a050a0"/><rect x="41" y="11" width="5" height="1" fill="#8440a4"/><rect x="46" y="11" width="3" height="1" fill="#6a18a0"/><rect x="49" y="11" width="3" height="1" fill="#6212a0"/><rect x="52" y="11" width="1" height="1" fill="#8440a4"/><rect x="53" y="11" width="2" height="1" fill="#a050a0"/><rect x="55" y="11" width="2" height="1" fill="#c05a88"/><rect x="57" y="11" width="6" height="1" fill="#c83060"/>
<rect x="0" y="12" width="5" height="1" fill="#8034a4"/><rect x="5" y="12" width="1" height="1" fill="#b05898"/><rect x="6" y="12" width="1" height="1" fill="#c05a88"/><rect x="7" y="12" width="1" height="1" fill="#c06090"/><rect x="8" y="12" width="1" height="1" fill="#c04878"/><rect x="9" y="12" width="2" height="1" fill="#c83060"/><rect x="11" y="12" width="20" height="1" fill="#c82050"/><rect x="20" y="12" width="2" height="1" fill="#c01040"/><rect x="31" y="12" width="1" height="1" fill="#c81c50"/><rect x="32" y="12" width="2" height="1" fill="#c82c5c"/><rect x="34" y="12" width="2" height="1" fill="#c83c6c"/><rect x="36" y="12" width="5" height="1" fill="#c05888"/><rect x="41" y="12" width="2" height="1" fill="#a050a0"/><rect x="43" y="12" width="3" height="1" fill="#9048a4"/><rect x="46" y="12" width="2" height="1" fill="#8440a4"/><rect x="48" y="12" width="2" height="1" fill="#6a18a0"/><rect x="50" y="12" width="3" height="1" fill="#8844a4"/><rect x="53" y="12" width="2" height="1" fill="#c05a88"/><rect x="55" y="12" width="2" height="1" fill="#c83c6c"/><rect x="57" y="12" width="6" height="1" fill="#c82050"/>
<rect x="0" y="13" width="7" height="1" fill="#c0588c"/><rect x="7" y="13" width="2" height="1" fill="#c04878"/><rect x="9" y="13" width="2" height="1" fill="#c83060"/><rect x="11" y="13" width="4" height="1" fill="#c8245a"/><rect x="15" y="13" width="16" height="1" fill="#c81848"/><rect x="18" y="13" width="4" height="1" fill="#c00c3c"/><rect x="31" y="13" width="5" height="1" fill="#c82454"/><rect x="36" y="13" width="6" height="1" fill="#c83c6c"/><rect x="42" y="13" width="12" height="1" fill="#c05a8a"/><rect x="54" y="13" width="3" height="1" fill="#c83a68"/><rect x="57" y="13" width="6" height="1" fill="#c82050"/>
<rect x="0" y="14" width="3" height="1" fill="#c0588a"/><rect x="3" y="14" width="4" height="1" fill="#c84878"/><rect x="7" y="14" width="4" height="1" fill="#c83060"/><rect x="11" y="14" width="5" height="1" fill="#c82050"/><rect x="16" y="14" width="3" height="1" fill="#c81040"/><rect x="19" y="14" width="3" height="1" fill="#c00434"/><rect x="22" y="14" width="9" height="1" fill="#c81848"/><rect x="31" y="14" width="11" height="1" fill="#c82454"/><rect x="42" y="14" width="3" height="1" fill="#c83864"/><rect x="45" y="14" width="8" height="1" fill="#c83c6c"/><rect x="53" y="14" width="3" height="1" fill="#c83060"/><rect x="56" y="14" width="7" height="1" fill="#c81c4c"/>
<rect x="0" y="15" width="3" height="1" fill="#c84070"/><rect x="3" y="15" width="3" height="1" fill="#c83864"/><rect x="6" y="15" width="4" height="1" fill="#c82858"/><rect x="10" y="15" width="4" height="1" fill="#c82050"/><rect x="14" y="15" width="5" height="1" fill="#c81444"/><rect x="19" y="15" width="3" height="1" fill="#c00838"/><rect x="22" y="15" width="9" height="1" fill="#c81444"/><rect x="31" y="15" width="10" height="1" fill="#c82858"/><rect x="41" y="15" width="15" height="1" fill="#c82c5c"/><rect x="56" y="15" width="7" height="1" fill="#c82050"/>
<rect x="0" y="16" width="2" height="1" fill="#c83a68"/><rect x="2" y="16" width="1" height="1" fill="#c82858"/><rect x="3" y="16" width="4" height="1" fill="#c83060"/><rect x="7" y="16" width="3" height="1" fill="#c82858"/><rect x="10" y="16" width="4" height="1" fill="#c81c50"/><rect x="14" y="16" width="6" height="1" fill="#c00c3c"/><rect x="20" y="16" width="3" height="1" fill="#c81040"/><rect x="23" y="16" width="8" height="1" fill="#c81848"/><rect x="31" y="16" width="5" height="1" fill="#c83060"/><rect x="36" y="16" width="5" height="1" fill="#c83c6c"/><rect x="41" y="16" width="12" height="1" fill="#c81c50"/><rect x="53" y="16" width="4" height="1" fill="#c82454"/><rect x="57" y="16" width="6" height="1" fill="#c83060"/>
<rect x="0" y="17" width="3" height="1" fill="#c83864"/><rect x="3" y="17" width="6" height="1" fill="#c82454"/><rect x="9" y="17" width="8" height="1" fill="#c81848"/><rect x="17" y="17" width="6" height="1" fill="#c81444"/><rect x="23" y="17" width="8" height="1" fill="#c82050"/><rect x="31" y="17" width="4" height="1" fill="#c83864"/><rect x="35" y="17" width="6" height="1" fill="#c83c6c"/><rect x="41" y="17" width="4" height="1" fill="#c82858"/><rect x="45" y="17" width="8" height="1" fill="#c81c50"/><rect x="53" y="17" width="10" height="1" fill="#c82c5c"/>
<rect x="0" y="18" width="3" height="1" fill="#c83c6c"/><rect x="3" y="18" width="7" height="1" fill="#c82858"/><rect x="10" y="18" width="8" height="1" fill="#c82050"/><rect x="18" y="18" width="3" height="1" fill="#c83060"/><rect x="21" y="18" width="6" height="1" fill="#c84070"/><rect x="27" y="18" width="4" height="1" fill="#c83060"/><rect x="31" y="18" width="1" height="1" fill="#c83a68"/><rect x="32" y="18" width="6" height="1" fill="#c84070"/><rect x="38" y="18" width="6" height="1" fill="#c83c6c"/><rect x="44" y="18" width="1" height="1" fill="#c05a88"/><rect x="45" y="18" width="18" height="1" fill="#c84070"/>
<rect x="0" y="19" width="4" height="1" fill="#c83c6c"/><rect x="4" y="19" width="6" height="1" fill="#c83060"/><rect x="10" y="19" width="6" height="1" fill="#c82454"/><rect x="16" y="19" width="8" height="1" fill="#c83464"/><rect x="24" y="19" width="13" height="1" fill="#c84070"/><rect x="37" y="19" width="8" height="1" fill="#c04a78"/><rect x="45" y="19" width="6" height="1" fill="#c83c6c"/><rect x="51" y="19" width="12" height="1" fill="#c04a78"/>
<rect x="0" y="20" width="3" height="1" fill="#c83a68"/><rect x="3" y="20" width="1" height="1" fill="#c82858"/><rect x="4" y="20" width="10" height="1" fill="#c83060"/><rect x="14" y="20" width="2" height="1" fill="#c82050"/><rect x="16" y="20" width="8" height="1" fill="#c84474"/><rect x="24" y="20" width="1" height="1" fill="#c85080"/><rect x="25" y="20" width="6" height="1" fill="#c84474"/><rect x="31" y="20" width="6" height="1" fill="#c83c6c"/><rect x="37" y="20" width="8" height="1" fill="#c04a78"/><rect x="45" y="20" width="7" height="1" fill="#c83060"/><rect x="52" y="20" width="11" height="1" fill="#c04a78"/>
<rect x="0" y="21" width="2" height="1" fill="#c84070"/><rect x="2" y="21" width="9" height="1" fill="#c83464"/><rect x="11" y="21" width="7" height="1" fill="#c83868"/><rect x="18" y="21" width="13" height="1" fill="#c84474"/><rect x="31" y="21" width="10" height="1" fill="#c83464"/><rect x="41" y="21" width="9" height="1" fill="#c84070"/><rect x="50" y="21" width="6" height="1" fill="#c83464"/><rect x="56" y="21" width="7" height="1" fill="#c04a78"/>
<rect x="0" y="22" width="1" height="1" fill="#c84070"/><rect x="1" y="22" width="2" height="1" fill="#c82858"/><rect x="3" y="22" width="8" height="1" fill="#c83464"/><rect x="11" y="22" width="9" height="1" fill="#c84474"/><rect x="20" y="22" width="3" height="1" fill="#c84878"/><rect x="23" y="22" width="8" height="1" fill="#c84474"/><rect x="31" y="22" width="5" height="1" fill="#c82858"/><rect x="36" y="22" width="5" height="1" fill="#c83060"/><rect x="41" y="22" width="12" height="1" fill="#c84070"/><rect x="53" y="22" width="4" height="1" fill="#c83060"/><rect x="57" y="22" width="6" height="1" fill="#c04a78"/>
</svg>

<!-- shoreline dots -->
<g id="dots" fill="#000">
<circle cx="23.3" cy="271" r="1.6"/><circle cx="39.3" cy="269.3" r="1.6"/><circle cx="56.7" cy="269.3" r="1.6"/><circle cx="72.7" cy="269.3" r="1.6"/><circle cx="88.3" cy="267.7" r="1.6"/><circle cx="104.7" cy="263.3" r="1.6"/><circle cx="121" cy="256.3" r="1.6"/><circle cx="133.3" cy="240.3" r="1.6"/><circle cx="137.3" cy="238.7" r="1.6"/><circle cx="153.3" cy="235.3" r="1.6"/><circle cx="169.7" cy="229.3" r="1.6"/><circle cx="185.3" cy="223.3" r="1.6"/><circle cx="202.3" cy="215.3" r="1.6"/><circle cx="218.3" cy="208.3" r="1.6"/><circle cx="220.7" cy="207.3" r="1.6"/><circle cx="234.7" cy="205.3" r="1.6"/><circle cx="250.3" cy="202.7" r="1.6"/><circle cx="267.3" cy="198.7" r="1.6"/><circle cx="283.3" cy="195.3" r="1.6"/><circle cx="291.7" cy="191.3" r="1.6"/><circle cx="298.7" cy="175.3" r="1.6"/><circle cx="299.7" cy="174.3" r="1.6"/><circle cx="315.3" cy="171.3" r="1.6"/><circle cx="331.3" cy="163.3" r="1.6"/><circle cx="340.3" cy="158.3" r="1.6"/><circle cx="348.3" cy="153.3" r="1.6"/><circle cx="356.3" cy="158" r="1.6"/><circle cx="364.7" cy="162.3" r="1.6"/><circle cx="380.3" cy="166.3" r="1.6"/><circle cx="396.3" cy="170.3" r="1.6"/><circle cx="406.3" cy="175.3" r="1.6"/><circle cx="413.3" cy="184.3" r="1.6"/><circle cx="429.7" cy="178.3" r="1.6"/><circle cx="445.3" cy="175.3" r="1.6"/><circle cx="461.7" cy="175.3" r="1.6"/><circle cx="477.7" cy="173.3" r="1.6"/><circle cx="492.3" cy="175.3" r="1.6"/><circle cx="494.3" cy="175.3" r="1.6"/><circle cx="510" cy="183.3" r="1.6"/><circle cx="518.7" cy="190.7" r="1.6"/><circle cx="526.8" cy="194.3" r="1.6"/><circle cx="542.4" cy="200.3" r="1.6"/><circle cx="560.1" cy="206.3" r="1.6"/><circle cx="560.8" cy="207.3" r="1.6"/><circle cx="568.6" cy="223" r="1.6"/><circle cx="575.4" cy="231.3" r="1.6"/><circle cx="591.4" cy="236" r="1.6"/><circle cx="601.5" cy="240" r="1.6"/><circle cx="607.7" cy="247.3" r="1.6"/><circle cx="625" cy="249" r="1.6"/><circle cx="641" cy="251.3" r="1.6"/><circle cx="656.9" cy="253.7" r="1.6"/><circle cx="672.9" cy="250.7" r="1.6"/><circle cx="689.6" cy="256" r="1.6"/><circle cx="706.2" cy="261" r="1.6"/><circle cx="722.5" cy="265" r="1.6"/><circle cx="738.5" cy="267.3" r="1.6"/><circle cx="754.5" cy="268" r="1.6"/><circle cx="771.4" cy="269.7" r="1.6"/><circle cx="787.8" cy="269.7" r="1.6"/><circle cx="803.7" cy="269.3" r="1.6"/><circle cx="819.7" cy="269" r="1.6"/><circle cx="836" cy="268" r="1.6"/><circle cx="853" cy="261.3" r="1.6"/><circle cx="861.1" cy="255.7" r="1.6"/><circle cx="869.3" cy="249" r="1.6"/><circle cx="884.3" cy="240" r="1.6"/><circle cx="885" cy="239" r="1.6"/><circle cx="901.2" cy="237.7" r="1.6"/><circle cx="918.2" cy="233" r="1.6"/><circle cx="934.5" cy="226.7" r="1.6"/><circle cx="943.4" cy="221.7" r="1.6"/><circle cx="950.9" cy="215" r="1.6"/><circle cx="963.8" cy="206.3" r="1.6"/><circle cx="967.2" cy="205.3" r="1.6"/><circle cx="969.9" cy="207" r="1.6"/><circle cx="984.2" cy="212" r="1.6"/><circle cx="999.4" cy="210" r="1.6"/><circle cx="1007.3" cy="206" r="1.6"/><circle cx="1016.1" cy="204.7" r="1.6"/><circle cx="1032.1" cy="204.3" r="1.6"/>
</g>
<use href="#dots" x="0" y="448"/>
<use href="#dots" x="0" y="896"/>

<!-- legend -->
<rect x="1047.5" y="697.5" width="346" height="158.5" rx="4" ry="4" fill="#fff" fill-opacity="0.8" stroke="#cccccc" stroke-width="1"/>
<rect x="1055" y="707.3" width="44.5" height="15.5" fill="#ff8c3a"/>
<rect x="1055" y="737.5" width="44.5" height="15.5" fill="#ccffff"/>
<rect x="1055" y="768" width="44.5" height="15.5" fill="#0b5cff"/>
<line x1="1055" y1="806" x2="1099.5" y2="806" stroke="#000" stroke-width="2.3"/>
<rect x="1055.7" y="828.5" width="43" height="15" fill="#9b2f2f" stroke="#801818" stroke-width="1.4"/>
<text x="1115" y="722.5" font-size="20.8">sand</text>
<text x="1115" y="753" font-size="20.8">whitewater</text>
<text x="1115" y="783.5" font-size="20.8">water</text>
<text x="1115" y="814" font-size="20.8">shoreline</text>
<text x="1115" y="844.5" font-size="20.8">reference shoreline buffer</text>
</svg>
</body></html>
